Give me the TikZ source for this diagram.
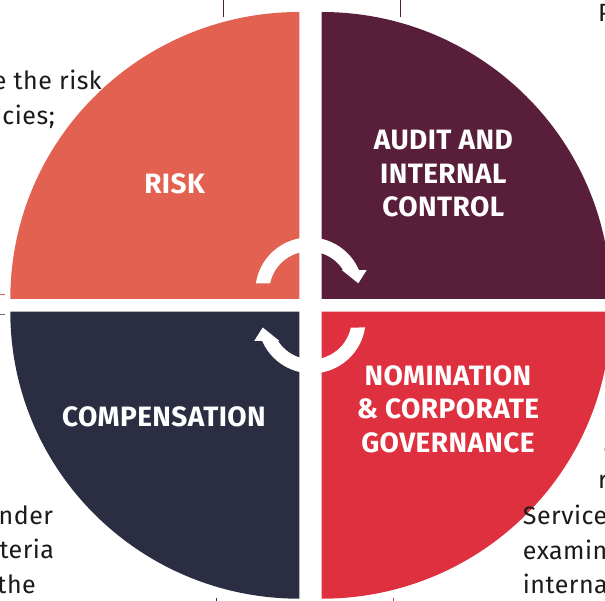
\documentclass[tikz,border=0pt]{standalone}
\usepackage{fontspec}
\setmainfont{Fira Sans}
\definecolor{qorange}{HTML}{E36150}
\definecolor{qmaroon}{HTML}{581E3A}
\definecolor{qnavy}{HTML}{2B2E43}
\definecolor{qred}{HTML}{DF303F}
\definecolor{bodytext}{HTML}{1A1A1A}
\tikzset{
  qlabel/.style={text=white, font=\bfseries\fontsize{28}{33.5}\selectfont\addfontfeatures{LetterSpace=1.5}, align=center, inner sep=0pt},
  body/.style={text=bodytext, font=\fontsize{25}{35}\selectfont\addfontfeatures{LetterSpace=2}, inner sep=0pt},
  leader/.style={line width=0.9pt},
  cyclearrow/.style={fill=white, draw=none}
}
\newcommand{\cyclearrowpath}{%
  (188.6:54) arc[start angle=188.6, end angle=336.7, radius=54]
  -- (57.4,-21.4) -- (49,-8.1) -- (32.4,-21.4) -- (33.8,-21.4)
  arc[start angle=327.7, end angle=191.7, radius=40] -- cycle}
\begin{document}
\begin{tikzpicture}[x=1pt,y=-1pt]
\useasboundingbox (0,0) rectangle (605,601);
\clip (0,0) rectangle (605,601);
% leader lines (cut-off)
\draw[leader, qmaroon] (223.3,0) -- (223.3,17);
\draw[leader, qmaroon] (400,0) -- (400,17);
\draw[leader, qorange] (0,294.7) -- (5,294.7);
\draw[leader, qnavy!70] (0,314.3) -- (5,314.3);
\draw[leader, qnavy] (216,598) -- (216,601);
\draw[leader, qred] (393,598) -- (393,601);
% quadrants
\fill[qorange] (299.3,299) -- ++(-289,0) arc[start angle=180, end angle=270, x radius=289, y radius=287] -- cycle;
\fill[qmaroon] (321.7,299) -- ++(0,-287) arc[start angle=270, end angle=360, x radius=289, y radius=287] -- cycle;
\fill[qnavy] (299.3,311.7) -- ++(0,287) arc[start angle=90, end angle=180, x radius=289, y radius=287] -- cycle;
\fill[qred] (321.7,311.7) -- ++(289,0) arc[start angle=0, end angle=90, x radius=289, y radius=287] -- cycle;
% cycle arrows
\begin{scope}[shift={(309.3,291.4)}]
  \fill[cyclearrow] \cyclearrowpath;
\end{scope}
\begin{scope}[shift={(311.7,319.4)}, rotate=180]
  \fill[cyclearrow] \cyclearrowpath;
\end{scope}
% labels
\node[qlabel] (risk) at (174.5,183.5) {RISK};
\node[qlabel] (audit) at (443.3,174) {AUDIT AND\\INTERNAL\\CONTROL};
\node[qlabel] (comp) at (164,416.5) {COMPENSATION};
\node[qlabel] (nom) at (448,409) {NOMINATION\\\&~CORPORATE\\GOVERNANCE};
% cut-off body text
\node[body, anchor=base east] (t1) at (102,90) {ensure the risk};
\node[body, anchor=base east] (t2) at (55,125) {policies;};
\node[body, anchor=base west] (t3) at (598,21.7) {P};
\node[body, anchor=base east] (t4) at (53.3,524) {under};
\node[body, anchor=base east] (t5) at (54.3,558.5) {criteria};
\node[body, anchor=base east] (t6) at (36,593) {the};
\node[body, anchor=base west] (t7) at (603.5,453) {a};
\node[body, anchor=base west] (t8) at (598,488.5) {r};
\node[body, anchor=base west] (t9) at (522.7,524.3) {Services};
\node[body, anchor=base west] (t10) at (522.7,559) {examine};
\node[body, anchor=base west] (t11) at (522.7,593.3) {internal};
\end{tikzpicture}
\end{document}
